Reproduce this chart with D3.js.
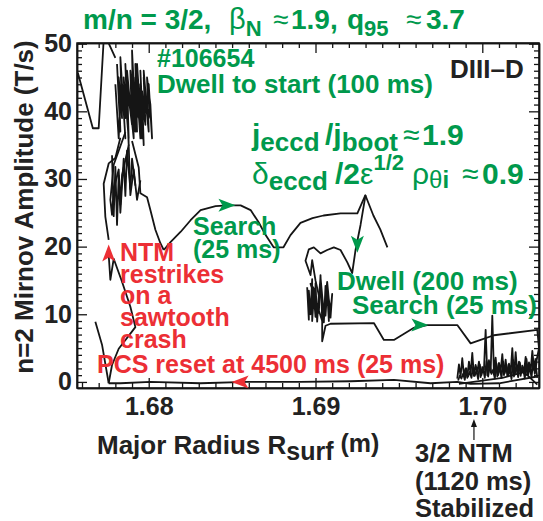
<!DOCTYPE html>
<html>
<head>
<meta charset="utf-8">
<script src="https://cdn.jsdelivr.net/npm/d3@7"></script>
<style>
  html, body { margin: 0; padding: 0; background: #fff; }
  text { font-family: "Liberation Sans", Arial, Helvetica, sans-serif; }
</style>
</head>
<body>
<svg id="chart" width="543" height="521"></svg>
<script>
// ---- Axis ticks ----
const xTickValues = [1.68, 1.69, 1.70];
const xTickLabels = ["1.68", "1.69", "1.70"];
const yTickValues = [0, 10, 20, 30, 40, 50];
const yTickLabels = ["0", "10", "20", "30", "40", "50"];

// ---- Trajectory pieces: major radius R_surf (m) and n=2 Mirnov amplitude (T/s) ----
// approach before the first dwell
const approachR = [1.67575, 1.67665, 1.6770, 1.6773, 1.6775, 1.6780];
const approachA = [45.7, 37.5, 37.5, 50.6, 50.6, 47.9];

// dwell to start (100 ms)
const dwell1R = [1.6781,1.6783,1.6782,1.6784,1.6783,1.6786,1.6784,1.6787,1.6786,1.6788,1.6787,1.6790,1.6788,1.6791,1.6790,1.6792,1.6791,1.6793,1.6792,1.6795,1.6793,1.6796,1.6795,1.6797,1.6796,1.6798,1.6797,1.6800,1.6798,1.6801,1.6800,1.6802,1.6801,1.6799,1.6800,1.6797,1.6798,1.6795,1.6796,1.6793,1.6794,1.6791,1.6792,1.6789,1.6790,1.6787,1.6788,1.6785,1.6786,1.6783,1.6782,1.6780];
const dwell1A = [47,37,45,39,48,36,44,40,47,35,46,38,43,36,49,39,45,37,47,36,44,40,46,35,43,38,45,37,42,39,44,36,41,45,37,46,38,44,36,47,39,43,37,46,38,44,36,45,39,42,36,44];

// strands falling out of the first dwell
const strandLR = [1.6783, 1.6780, 1.6776, 1.6773, 1.6774, 1.6776];
const strandLA = [36.1, 33.1, 32.3, 29.3, 24.4, 21.0];
const strandMR = [1.6786,1.6779,1.6777,1.6778,1.6779,1.6782,1.6783,1.6784,1.6788,1.6789,1.6791,1.6793,1.6795];
const strandMA = [36.9,32.1,26.9,24.7,28.4,31.4,26.2,30.6,35.0,27.6,31.4,26.9,29.8];
const strandXR = [1.6778,1.6779,1.6780,1.6781,1.6782,1.6783,1.6785,1.6786,1.6787,1.6789,1.6790,1.6792];
const strandXA = [33.5,24.5,31.8,23.2,30.5,25.0,33.0,27.5,34.2,28.5,33.0,29.0];
const strandRR = [1.6790, 1.6794, 1.6795, 1.6799, 1.6801, 1.6804, 1.6807, 1.6809];
const strandRA = [35.6, 31.7, 27.9, 27.3, 25.4, 22.5, 20.5, 19.5];

// search (25 ms)
const search1R = [1.6809,1.68132,1.68192,1.68251,1.68311,1.68401,1.68473,1.68551,1.68611,1.68659,1.68701,1.68749,1.68808,1.6885,1.6891,1.68982,1.69048,1.6915,1.69251,1.69299,1.69347,1.69389,1.69431];
const search1A = [19.5,20.7,22.2,23.9,25.4,26.0,26.1,26.1,25.4,23.6,21.7,19.9,19.9,21.7,23.5,24.2,24.6,24.9,24.9,27.6,24.6,22.5,19.9];

// fall back into the second dwell
const loopR = [1.6930,1.6927,1.6924,1.6922,1.6919,1.6915,1.6911,1.6907,1.6903,1.6899,1.6896,1.6894,1.6897,1.6898,1.6900,1.6902];
const loopA = [27.6,23.2,19.5,16.1,17.7,19.5,19.9,19.5,19.0,19.9,19.6,17.9,15.8,18.0,15.0,12.8];

// dwell (200 ms)
const dwell2R = [1.6895,1.6896,1.6896,1.6897,1.6898,1.6898,1.6899,1.6900,1.6900,1.6901,1.6902,1.6902,1.6903,1.6904,1.6904,1.6905,1.6906,1.6906,1.6907,1.6908,1.6908,1.6909,1.6910,1.6909,1.6907,1.6905,1.6903,1.6901,1.6899,1.6897,1.6904];
const dwell2A = [14.0,9.2,13.5,10.0,15.2,9.0,12.8,9.6,14.6,8.9,13.0,10.2,15.8,9.3,12.5,8.8,14.2,9.8,13.6,9.0,12.2,10.4,13.0,9.5,14.8,10.0,15.5,9.2,13.8,14.5,9.0];

// search (25 ms) toward the outer edge
const search2R = [1.6904,1.6904,1.6906,1.6909,1.6935,1.6941,1.6947,1.6959,1.6967,1.6985,1.6993,1.6999,1.7007,1.7033,1.7034,1.7032,1.7033];
const search2A = [9.0,6.0,8.3,8.6,8.7,6.2,6.2,8.0,8.4,8.4,5.7,6.2,6.9,7.7,5.0,2.5,0.6];

// stabilized: low-amplitude fluctuations near 1.70 m
const noiseFwdR = [1.6985,1.6986,1.6987,1.6988,1.6989,1.6990,1.6991,1.6992,1.6993,1.6994,1.6995,1.6996,1.6997,1.6998,1.6999,1.7000,1.7001,1.7002,1.7003,1.7004,1.7005,1.7006,1.7007,1.7008,1.7009,1.7010,1.7011,1.7012,1.7013,1.7014,1.7015,1.7016,1.7017,1.7018,1.7019,1.7020,1.7021,1.7022,1.7023,1.7024,1.7025,1.7026,1.7027,1.7028,1.7029,1.7030,1.7031,1.7032];
const noiseFwdA = [0.5,2.6,0.8,3.5,1.0,2.0,0.6,3.0,1.2,4.3,0.9,2.5,1.5,3.0,0.7,2.2,1.8,7.7,1.0,3.2,1.4,9.8,1.1,3.6,0.8,2.8,1.6,4.1,1.0,3.3,0.9,2.7,1.3,5.0,0.8,4.4,1.2,3.0,0.9,2.4,1.5,3.7,1.0,2.9,1.6,4.6,2.0,3.5];
const noiseBackR = [1.70325,1.70315,1.70305,1.70295,1.70285,1.70275,1.70265,1.70255,1.70245,1.70235,1.70225,1.70215,1.70205,1.70195,1.70185,1.70175,1.70165,1.70155,1.70145,1.70135,1.70125,1.70115,1.70105,1.70095,1.70085,1.70075,1.70065,1.70055,1.70045,1.70035,1.70025,1.70015,1.70005,1.69995,1.69985,1.69975,1.69965,1.69955,1.69945,1.69935,1.69925,1.69915,1.69905,1.69895,1.69885,1.69875,1.69865,1.69855];
const noiseBackA = [2.8,1.2,3.1,0.6,2.3,1.0,3.4,0.5,2.0,1.4,2.9,0.7,2.5,1.1,3.2,0.4,1.9,0.9,2.6,1.3,3.0,0.6,2.2,1.0,2.7,0.5,1.8,1.2,2.4,0.8,3.1,0.6,2.0,1.0,2.6,0.4,1.7,0.9,2.3,0.6,1.5,0.8,2.0,0.3,1.2,0.5,0.9,0.2];
const edge1R = [1.6986, 1.7012, 1.7032];
const edge1A = [-0.3, 0.6, 1.9];
const edge2R = [1.7020, 1.7027, 1.7033];
const edge2A = [2.2, 1.0, -0.4];

// PCS reset at 4500 ms (25 ms), moving back inward
const resetR = [1.7033,1.7010,1.6993,1.6985,1.6969,1.6947,1.6921,1.6891,1.6859,1.6831,1.6801,1.6783,1.6776];
const resetA = [0.8,-0.2,-0.3,0.0,-0.2,0.3,0.1,0.0,0.0,-0.2,0.0,-0.2,-0.2];

// NTM restrikes on a sawtooth crash
const restrikeR = [1.6776,1.6778,1.6782,1.6792,1.6789,1.6784,1.6779,1.6777,1.6776];
const restrikeA = [-0.2,2.5,4.9,8.1,11.1,14.8,18.2,15.1,18.8];
const tailR = [1.6768, 1.6772, 1.6776];
const tailA = [8.9, 5.5, -0.2];

// arrow heads along the trajectory
const arrowR = [1.6852, 1.69251, 1.69677, 1.6776, 1.68497];
const arrowA = [26.1, 19.1, 8.4, 20.3, 0.0];
const arrowDir = ["right", "down", "right", "up", "left"];
const arrowColor = ["green", "green", "green", "red", "red"];

// ---- Layout ----
const GREEN = "#00994c";
const RED = "#ec2f35";
const INK = "#151515";
const plotL = 77, plotR = 539, plotT = 43, plotB = 388;

const svg = d3.select("#chart");
const x = d3.scaleLinear().domain([1.6757, 1.7034]).range([plotL, plotR]);
const y = d3.scaleLinear().domain([-0.9, 50.1]).range([plotB, plotT]);

svg.append("defs").append("clipPath").attr("id", "plot")
  .append("rect").attr("x", plotL).attr("y", plotT)
  .attr("width", plotR - plotL).attr("height", plotB - plotT);

// ---- Frame and ticks (inward on all four sides) ----
const xMinor = d3.range(1676, 1704).map(v => v / 1000).filter(v => !xTickValues.some(t => Math.abs(t - v) < 1e-9));
const yMinor = d3.range(0, 51).filter(v => v % 10 !== 0);

function styleAxis(g) {
  g.selectAll("path.domain").attr("stroke", INK).attr("stroke-width", 1.5);
  g.selectAll(".tick line").attr("stroke", INK).attr("stroke-width", 1.3);
  g.selectAll("text").attr("fill", "#222").style("font-size", "25px").style("font-weight", "bold")
    .style("font-family", '"Liberation Sans", Arial, sans-serif');
}

svg.append("g").attr("transform", `translate(0,${plotB})`)
  .call(d3.axisBottom(x).tickValues(xTickValues).tickFormat((d, i) => xTickLabels[i]).tickSizeInner(-10).tickSizeOuter(0).tickPadding(9))
  .call(styleAxis);
svg.append("g").attr("transform", `translate(0,${plotB})`)
  .call(d3.axisBottom(x).tickValues(xMinor).tickFormat("").tickSizeInner(-5).tickSizeOuter(0))
  .call(styleAxis);
svg.append("g").attr("transform", `translate(0,${plotT})`)
  .call(d3.axisTop(x).tickValues(xTickValues).tickFormat("").tickSizeInner(-10).tickSizeOuter(0))
  .call(styleAxis);
svg.append("g").attr("transform", `translate(0,${plotT})`)
  .call(d3.axisTop(x).tickValues(xMinor).tickFormat("").tickSizeInner(-5).tickSizeOuter(0))
  .call(styleAxis);
svg.append("g").attr("transform", `translate(${plotL},0)`)
  .call(d3.axisLeft(y).tickValues(yTickValues).tickFormat((d, i) => yTickLabels[i]).tickSizeInner(-10).tickSizeOuter(0).tickPadding(5))
  .call(styleAxis);
svg.append("g").attr("transform", `translate(${plotL},0)`)
  .call(d3.axisLeft(y).tickValues(yMinor).tickFormat("").tickSizeInner(-5).tickSizeOuter(0))
  .call(styleAxis);
svg.append("g").attr("transform", `translate(${plotR},0)`)
  .call(d3.axisRight(y).tickValues(yTickValues).tickFormat("").tickSizeInner(-10).tickSizeOuter(0))
  .call(styleAxis);
svg.append("g").attr("transform", `translate(${plotR},0)`)
  .call(d3.axisRight(y).tickValues(yMinor).tickFormat("").tickSizeInner(-5).tickSizeOuter(0))
  .call(styleAxis);

svg.append("rect").attr("x", plotL).attr("y", plotT).attr("width", plotR - plotL).attr("height", plotB - plotT)
  .attr("fill", "none").attr("stroke", INK).attr("stroke-width", 1.5);

// ---- Trajectory ----
const traces = [
  [approachR, approachA], [dwell1R, dwell1A], [strandLR, strandLA], [strandMR, strandMA],
  [strandXR, strandXA], [strandRR, strandRA], [search1R, search1A], [loopR, loopA],
  [dwell2R, dwell2A], [search2R, search2A], [noiseFwdR, noiseFwdA], [noiseBackR, noiseBackA],
  [edge1R, edge1A], [edge2R, edge2A], [resetR, resetA], [restrikeR, restrikeA], [tailR, tailA]
];
const line = d3.line().x(d => x(d[0])).y(d => y(d[1]));
const plot = svg.append("g").attr("clip-path", "url(#plot)");
plot.selectAll("path.trace").data(traces.map(([r, a]) => d3.zip(r, a)))
  .join("path").attr("class", "trace")
  .attr("d", line).attr("fill", "none").attr("stroke", INK)
  .attr("stroke-width", 1.8).attr("stroke-linejoin", "round");

// ---- Arrow heads ----
const rot = { right: 0, down: 90, left: 180, up: -90 };
svg.selectAll("path.head").data(d3.range(arrowR.length)).join("path").attr("class", "head")
  .attr("d", "M0,0 L-17,-6.5 L-13,0 L-17,6.5 Z")
  .attr("transform", i => `translate(${x(arrowR[i])},${y(arrowA[i])}) rotate(${rot[arrowDir[i]]})`)
  .attr("fill", i => arrowColor[i] === "green" ? GREEN : RED);

// ---- Rich text helper (sub/superscripts via baseline offsets) ----
function rich(x0, y0, parts, fill) {
  const t = svg.append("text").attr("x", x0).attr("y", y0).attr("fill", fill);
  let off = 0;
  parts.forEach(p => {
    const o = p.o || 0;
    const s = t.append("tspan").text(p.t).attr("dy", o - off);
    off = o;
    if (p.x != null) s.attr("x", p.x);
    s.style("font-size", (p.s || 25) + "px").style("font-weight", p.w || "bold");
  });
  return t;
}

// stacked lines in one text element
function stack(x0, y0, lines, gap, size, fill) {
  const t = svg.append("text").attr("x", x0).attr("y", y0).attr("fill", fill)
    .style("font-size", size + "px").style("font-weight", "bold");
  lines.forEach((w, i) => t.append("tspan").attr("x", x0).attr("dy", i ? gap : 0).text(w));
  return t;
}

// title
rich(83, 29, [
  { t: "m/n = 3/2,", s: 28 },
  { t: "β", s: 29, w: "normal", x: 229 },
  { t: "N", s: 22, o: 7 },
  { t: "≈", s: 28, w: "normal", x: 273 },
  { t: "1.9,", s: 28, x: 291 },
  { t: "q", s: 28, x: 347 },
  { t: "95", s: 22, o: 7 },
  { t: "≈", s: 28, w: "normal", x: 406 },
  { t: "3.7", s: 28, x: 426 }
], GREEN);

// axis titles
svg.append("text").attr("transform", "translate(33,207) rotate(-90)")
  .attr("text-anchor", "middle").attr("fill", "#222")
  .style("font-size", "26px").style("font-weight", "bold")
  .text("n=2 Mirnov Amplitude (T/s)");
rich(97, 454, [
  { t: "Major Radius R", s: 26 },
  { t: "surf", s: 25, o: 6 },
  { t: " (m)", s: 25, o: -2 }
], "#222");

// stabilized note below the axis
const noteX = x(1.6995);
svg.append("line").attr("x1", noteX).attr("x2", noteX).attr("y1", 440).attr("y2", 424)
  .attr("stroke", INK).attr("stroke-width", 1.2);
svg.append("path").attr("d", `M${noteX},419 L${noteX - 3},427 L${noteX + 3},427 Z`).attr("fill", INK);
stack(415, 462, ["3/2 NTM", "(1120 ms)", "Stabilized"], 27.5, 25.5, "#222");

// in-plot labels
rich(450, 78, [{ t: "DIII–D", s: 26 }], "#222");
rich(157, 67, [{ t: "#106654", s: 25 }], GREEN);
rich(157, 93, [{ t: "Dwell to start (100 ms)", s: 26 }], GREEN);

rich(252, 145, [
  { t: "j", s: 30 },
  { t: "eccd", s: 26, o: 6 },
  { t: "/", s: 30, o: 0, x: 325 },
  { t: "j", s: 30 },
  { t: "boot", s: 26, o: 6 },
  { t: "≈", s: 30, w: "normal", o: 0, x: 403 },
  { t: "1.9", s: 30, x: 422 }
], GREEN);
rich(252, 184, [
  { t: "δ", s: 30, w: "normal" },
  { t: "eccd", s: 26, o: 6 },
  { t: "/2", s: 30, o: 0, x: 335 },
  { t: "ε", s: 30, w: "normal" },
  { t: "1/2", s: 22, o: -14 },
  { t: "ρ", s: 30, w: "normal", o: 0, x: 412 },
  { t: "θ", s: 24, w: "normal", o: 4 },
  { t: "i", s: 24, o: 4 },
  { t: "≈", s: 30, w: "normal", o: 0, x: 462 },
  { t: "0.9", s: 30, x: 482 }
], GREEN);

stack(193, 235, ["Search", "(25 ms)"], 23, 25, GREEN);
rich(337, 290, [{ t: "Dwell (200 ms)", s: 26 }], GREEN);
rich(352, 314, [{ t: "Search (25 ms)", s: 26 }], GREEN);

stack(120, 261, ["NTM", "restrikes", "on a", "sawtooth", "crash"], 21.7, 25, RED);
rich(97, 373, [{ t: "PCS reset at 4500 ms (25 ms)", s: 25 }], RED);
</script>
</body>
</html>
